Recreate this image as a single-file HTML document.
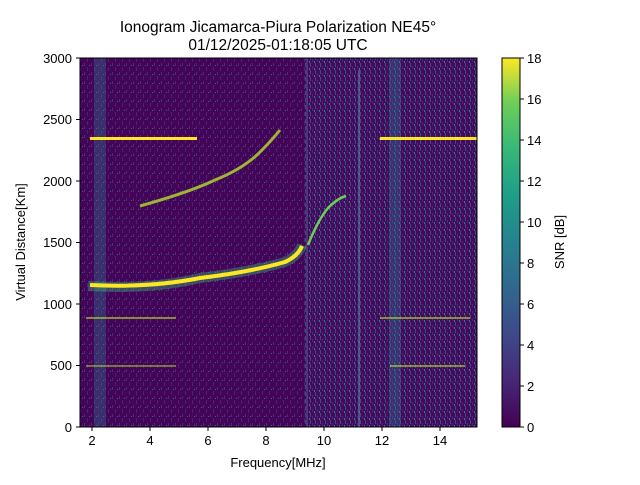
<!DOCTYPE html>
<html><head><meta charset="utf-8"><style>
body{margin:0;background:#fff;width:640px;height:480px;overflow:hidden;font-family:"Liberation Sans",sans-serif}
</style></head><body>
<svg width="640" height="480" xmlns="http://www.w3.org/2000/svg" font-family="Liberation Sans, sans-serif">
<defs>
<linearGradient id="vir" x1="0" y1="1" x2="0" y2="0">
<stop offset="0" stop-color="#440154"/><stop offset="0.13" stop-color="#482878"/>
<stop offset="0.25" stop-color="#3e4989"/><stop offset="0.38" stop-color="#31688e"/>
<stop offset="0.5" stop-color="#26828e"/><stop offset="0.63" stop-color="#1f9e89"/>
<stop offset="0.75" stop-color="#35b779"/><stop offset="0.88" stop-color="#6ece58"/>
<stop offset="1" stop-color="#fde725"/></linearGradient>
<pattern id="nz" width="7" height="9" patternUnits="userSpaceOnUse">
<rect width="7" height="9" fill="#440558"/>
<rect x="0" y="0" width="1" height="3" fill="#472d7b"/>
<rect x="3" y="4" width="1" height="4" fill="#482475"/>
<rect x="5" y="2" width="1" height="1" fill="#31688e"/>
</pattern>
<pattern id="nz2" width="5" height="7" patternUnits="userSpaceOnUse">
<rect width="5" height="7" fill="#450a5c"/>
<rect x="0" y="0" width="1" height="4" fill="#3e4a89"/>
<rect x="2" y="3" width="1" height="3" fill="#482878"/>
<rect x="4" y="5" width="1" height="2" fill="#26828e"/>
</pattern>
</defs>
<text x="278" y="32" font-size="15.5" text-anchor="middle">Ionogram Jicamarca-Piura Polarization NE45°</text>
<text x="278" y="50" font-size="15.5" text-anchor="middle">01/12/2025-01:18:05 UTC</text>
<rect x="80" y="58" width="397" height="369" fill="url(#nz)"/>
<rect x="305" y="58" width="172" height="369" fill="url(#nz2)"/>
<rect x="94" y="58" width="12" height="369" fill="#31688e" opacity="0.4"/>
<rect x="389" y="58" width="12" height="369" fill="#31688e" opacity="0.4"/>
<rect x="358" y="70" width="2" height="357" fill="#5a7fa0" opacity="0.6"/>
<rect x="306" y="58" width="2" height="369" fill="#5a6f90" opacity="0.4"/>
<rect x="90" y="137" width="107" height="3" fill="#fde725"/>
<rect x="380" y="137" width="97" height="3" fill="#fde725"/>
<rect x="86" y="317" width="90" height="2" fill="#b5de2b" opacity="0.6"/>
<rect x="380" y="317" width="90" height="2" fill="#b5de2b" opacity="0.6"/>
<rect x="86" y="365" width="90" height="2" fill="#b5de2b" opacity="0.5"/>
<rect x="390" y="365" width="75" height="2" fill="#b5de2b" opacity="0.6"/>
<path d="M88 286 Q150 290 200 278 Q250 272 285 262 Q298 256 302 245" stroke="#35b779" stroke-width="10" fill="none" opacity="0.4"/>
<path d="M90 285 Q150 288 200 278 Q250 272 285 262 Q298 256 302 246" stroke="#fde725" stroke-width="4" fill="none"/>
<path d="M308 245 Q318 220 328 208 Q338 198 346 196" stroke="#6ece58" stroke-width="2.5" fill="none"/>
<path d="M140 206 Q190 192 215 180 Q245 168 262 150 Q272 140 280 130" stroke="#b5de2b" stroke-width="3" fill="none" opacity="0.8"/>
<rect x="80" y="58" width="397" height="369" fill="none" stroke="#000" stroke-width="1"/>
<g stroke="#000">
<line x1="92" y1="427" x2="92" y2="431"/><line x1="150" y1="427" x2="150" y2="431"/><line x1="208" y1="427" x2="208" y2="431"/><line x1="266" y1="427" x2="266" y2="431"/><line x1="324" y1="427" x2="324" y2="431"/><line x1="382" y1="427" x2="382" y2="431"/><line x1="440" y1="427" x2="440" y2="431"/>
<line x1="76" y1="427" x2="80" y2="427"/><line x1="76" y1="365.5" x2="80" y2="365.5"/><line x1="76" y1="304" x2="80" y2="304"/><line x1="76" y1="242.5" x2="80" y2="242.5"/><line x1="76" y1="181" x2="80" y2="181"/><line x1="76" y1="119.5" x2="80" y2="119.5"/><line x1="76" y1="58" x2="80" y2="58"/>
</g>
<g font-size="13" text-anchor="middle">
<text x="92" y="445">2</text><text x="150" y="445">4</text><text x="208" y="445">6</text><text x="266" y="445">8</text><text x="324" y="445">10</text><text x="382" y="445">12</text><text x="440" y="445">14</text>
</g>
<g font-size="13" text-anchor="end">
<text x="72" y="432">0</text><text x="72" y="370">500</text><text x="72" y="309">1000</text><text x="72" y="247">1500</text><text x="72" y="186">2000</text><text x="72" y="124">2500</text><text x="72" y="63">3000</text>
</g>
<text x="278" y="467" font-size="13" text-anchor="middle">Frequency[MHz]</text>
<text transform="translate(25,242) rotate(-90)" font-size="13" text-anchor="middle">Virtual Distance[Km]</text>
<rect x="502" y="58" width="18" height="369" fill="url(#vir)" stroke="#000" stroke-width="1"/>
<g stroke="#000">
<line x1="520" y1="427" x2="524" y2="427"/><line x1="520" y1="386" x2="524" y2="386"/><line x1="520" y1="345" x2="524" y2="345"/><line x1="520" y1="304" x2="524" y2="304"/><line x1="520" y1="263" x2="524" y2="263"/><line x1="520" y1="222" x2="524" y2="222"/><line x1="520" y1="181" x2="524" y2="181"/><line x1="520" y1="140" x2="524" y2="140"/><line x1="520" y1="99" x2="524" y2="99"/><line x1="520" y1="58" x2="524" y2="58"/>
</g>
<g font-size="13">
<text x="527" y="432">0</text><text x="527" y="391">2</text><text x="527" y="350">4</text><text x="527" y="309">6</text><text x="527" y="268">8</text><text x="527" y="227">10</text><text x="527" y="186">12</text><text x="527" y="145">14</text><text x="527" y="104">16</text><text x="527" y="63">18</text>
</g>
<text transform="translate(564,242) rotate(-90)" font-size="13" text-anchor="middle">SNR [dB]</text>
</svg>
</body></html>
